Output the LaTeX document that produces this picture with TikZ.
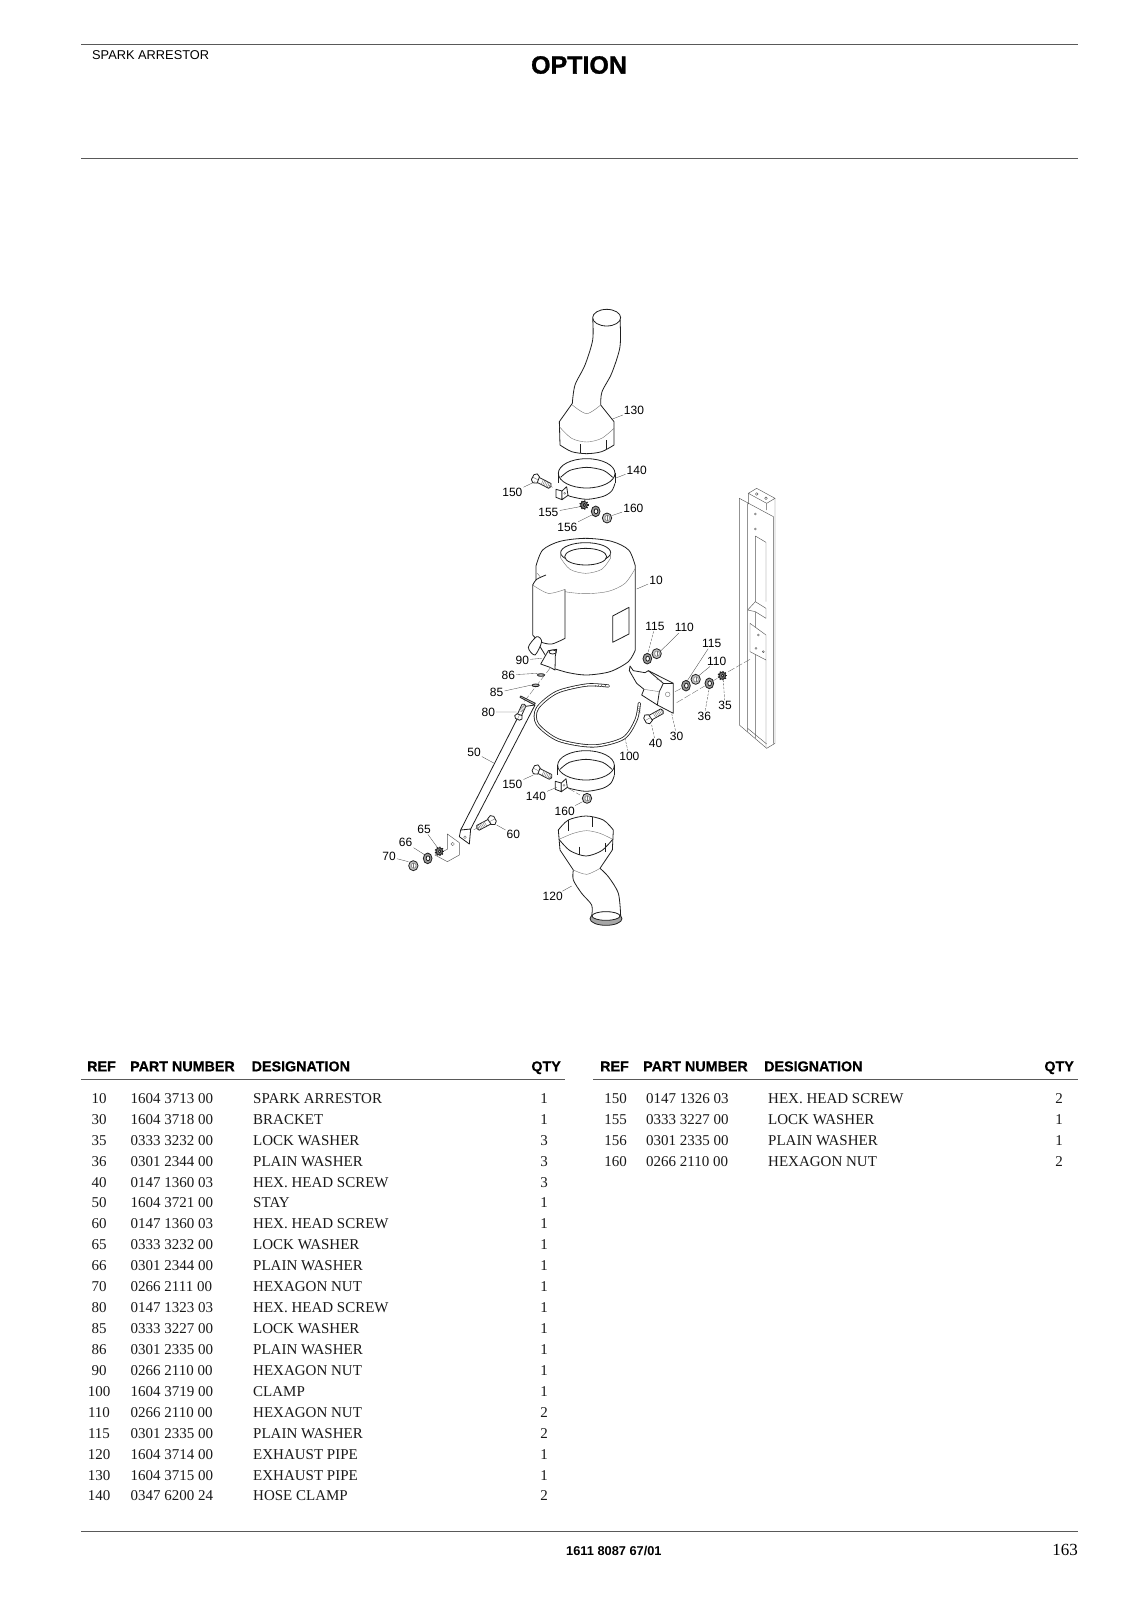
\documentclass[tikz,border=0pt]{standalone}
\usepackage{fontspec}
\setmainfont{Liberation Serif}
\newfontfamily\helv{Liberation Sans}
\newfontfamily\helvheavy{Liberation Sans Bold}[FakeBold=1.2]
\newfontfamily\helvhead{Liberation Sans Bold}[FakeBold=0.5]
\usepackage{xcolor}
\usepackage{tikz}
\usetikzlibrary{positioning,calc}
\definecolor{rulegrey}{gray}{0.35}
\definecolor{inkgrey}{gray}{0.12}
\tikzset{
  zoomA/.style={shift={(480,290)},scale=1/3},
  zoomB/.style={shift={(480,560)},scale=1/3},
  zoomC/.style={shift={(360,680)},scale=1/3},
  zoomD/.style={shift={(520,530)},scale=1/3},
  every pic/.style={scale=1/3},
  part/.style={line width=0.8pt,draw=inkgrey,line join=round},
  light/.style={line width=0.4pt,draw=black!55},
  rail/.style={line width=0.45pt,draw=black!65},
  leader/.style={line width=0.35pt,draw=black!70},
  leaderdash/.style={leader,dash pattern=on 2.5pt off 1.2pt},
  axisline/.style={line width=0.35pt,draw=black!60,dash pattern=on 7pt off 2pt},
  lbl/.style={font=\helv\fontsize{12}{12}\selectfont,inner sep=1pt},
  cell/.style={font=\fontsize{15}{15}\selectfont,inner sep=0pt,text=black!90},
  headcell/.style={font=\helvhead\fontsize{14.3}{14.3}\selectfont,inner sep=0pt},
  toprule/.style={line width=0.9pt,draw=rulegrey},
  screw/.pic={
    \draw[part,fill=white] (8,-8) -- (50,-8) -- (54,0) -- (50,8) -- (8,8) -- cycle;
    \foreach \k in {24,29,...,49} \draw[light] (\k,-8) -- (\k+1,8);
    \draw[part,fill=white] (0,-15) -- (10,-10) -- (12,10) -- (0,15) -- (-8,8) -- (-8,-8) -- cycle;
    \draw[light] (-8,0) -- (11,0);
  },
  lockwasher/.pic={
    \foreach \a in {0,40,...,320} \draw[part,line width=1.2pt] (0,0) -- (\a:14);
    \draw[part,fill=black!55] (0,0) ellipse [x radius=10,y radius=11];
    \draw[part,fill=white] (1,0) ellipse [x radius=3.5,y radius=5];
  },
  plainwasher/.pic={
    \draw[part,fill=black!40] (0,0) ellipse [x radius=13,y radius=16];
    \draw[part,fill=white] (1,0) ellipse [x radius=5.5,y radius=7.5];
  },
  hexnut/.pic={
    \draw[part,fill=black!25] (0,0) ellipse [x radius=14,y radius=15];
    \draw[light,fill=white] (1,0) ellipse [x radius=7,y radius=8];
    \draw[light] (1,-8) -- (1,8);
  },
  hoseclamp/.pic={
    \draw[part] (0,0) ellipse [x radius=85,y radius=44];
    \draw[part] plot[smooth] coordinates {(-78,12) (-50,-9) (0,-18) (50,-9) (78,12)};
    \draw[part] (-85,0) -- (-85,30);
    \draw[part] (85,0) -- (85,30);
    \draw[part] plot[smooth] coordinates {(85,30) (75,53) (50,69) (0,78) (-50,69) (-62,62)};
    \draw[part,fill=white] (-92,48) -- (-74,53) -- (-74,79) -- (-92,72) -- cycle;
    \draw[part,fill=white] (-74,53) -- (-60,40) -- (-56,66) -- (-74,79) -- cycle;
    \draw[light] (-66,60) circle [radius=3];
  }
}
\begin{document}
\begin{tikzpicture}[x=1pt,y=-1pt]
\useasboundingbox (0,0) rectangle (1130,1600);
% page head
\coordinate (headL) at (81,44);
\coordinate (headR) at (1078,44);
\coordinate (subL) at (81,158);
\coordinate (subR) at (1078,158);
\draw[toprule] (headL) -- (headR);
\draw[toprule] (subL) -- (subR);
\node[anchor=mid west,inner sep=0pt,font=\helv\fontsize{12.8}{13}\selectfont] (pagetitle) at (92,57) {SPARK ARRESTOR};
\node[inner sep=0pt,font=\helvheavy\fontsize{25}{25}\selectfont] (optiontitle) at (579,65) {OPTION};
%
% top pipe, clamp and column
\begin{scope}[zoomA]
  % exhaust pipe 130
  \draw[part,fill=white] plot[smooth] coordinates {(338,85) (338,150) (315,225) (285,285) (277,340)}
     -- (238,395) -- (240,465)
     -- plot[smooth] coordinates {(240,465) (275,485) (320,491) (365,485) (402,465)}
     -- (402,395) -- (362,345)
     -- plot[smooth] coordinates {(362,345) (366,305) (395,250) (420,170) (420,85)};
  \draw[part,fill=white] (380,83) ellipse [x radius=42,y radius=25];
  \draw[light] plot[smooth] coordinates {(277,345) (320,371) (362,345)};
  \draw[light] plot[smooth] coordinates {(238,410) (275,445) (320,456) (365,445) (402,415)};
  \draw[part] (300,463) -- (300,490) (378,450) -- (378,478);
  % hose clamp and fixings, top
  \pic at (320,550) {hoseclamp};
  \pic[rotate=-27] at (165,565) {screw};
  \draw[axisline] (205,585) -- (218,592);
  \pic at (312,645) {lockwasher};
  \pic at (347,664) {plainwasher};
  \pic at (381,684) {hexnut};
  % column
  \draw[rail,fill=white] (805,610) -- (830,595) -- (885,625) -- (860,640) -- cycle;
  \draw[rail] (830,612) circle [radius=4] (858,625) circle [radius=4];
  \draw[rail] (805,610) -- (805,642) (860,640) -- (860,660) (885,625) -- (885,1360) -- (860,1375) -- (778,1305) -- (778,625) -- (880,680) -- (880,1360);
  \draw[rail] (803,640) -- (803,1325) (826,738) -- (826,1345) (858,757) -- (858,935) (858,1110) -- (858,1372) (826,738) -- (858,757);
  \draw[rail] (803,1315) -- (860,1362);
  \draw[rail,fill=white] (803,960) -- (826,935) -- (858,955) -- (858,985) -- (826,965) -- cycle;
  \draw[rail,fill=white] (810,1000) -- (858,1035) -- (858,1110) -- (810,1085) -- cycle;
  \foreach \hx/\hy in {826/672,826/717,835/1035,828/1075,850/1085}
    \draw[rail] (\hx,\hy) circle [radius=3];
  \foreach \nm/\txt/\labx/\laby/\tgtx/\tgty in {a130/130/462/362/395/388,a140/140/470/540/405/565,a150/150/97/608/165/575,a155/155/205/668/300/650,a156/156/262/712/335/675,a160/160/460/655/395/677}{
    \node[lbl] (l\nm) at (\labx,\laby) {\txt};
    \coordinate (t\nm) at (\tgtx,\tgty);
    \draw[leader] (l\nm) -- (t\nm);
  }
\end{scope}
%
% arrestor can 10
\begin{scope}[zoomD]
  \draw[part,fill=white] plot[smooth] coordinates {(48,108) (68,60) (120,34) (197,25) (275,34) (326,60) (346,108)}
     -- (346,360)
     -- plot[smooth] coordinates {(346,360) (325,395) (270,425) (200,435) (145,428) (100,415)}
     -- (48,330) -- cycle;
  \draw[light] plot[smooth] coordinates {(52,130) (85,165) (130,184) (197,191) (265,184) (315,160) (346,115)};
  \draw[part,fill=white] (197,68) ellipse [x radius=75,y radius=30];
  \draw[light] (122,68) -- (122,84) -- plot[smooth] coordinates {(122,84) (150,118) (197,130) (245,118) (272,84)} -- (272,68);
  \draw[part,fill=white] (197,80) ellipse [x radius=63,y radius=25];
  \draw[part] (278,258) -- (327,232) -- (327,312) -- (278,337) -- cycle;
  % side cylinder
  \fill[white] (38,165) -- (50,148) -- (78,135) -- (135,178) -- (135,325) -- (95,342) -- (60,335) -- (38,315) -- cycle;
  \draw[part] plot[smooth] coordinates {(78,135) (50,148) (38,165)} -- (38,315)
     -- plot[smooth] coordinates {(38,315) (60,335) (95,342) (135,325)} -- (135,178);
  \draw[light] plot[smooth] coordinates {(38,165) (85,190) (135,178)};
  \draw[part,fill=white] plot[smooth cycle] coordinates {(25,352) (50,320) (65,335) (45,375)};
  % lug with bolt hole
  \draw[part,fill=white] (85,362) -- (110,358) -- (106,378) -- (105,420) -- (90,412) -- (62,402) -- cycle;
  \draw[part,fill=white] (98,366) ellipse [x radius=11,y radius=6];
\end{scope}
%
\begin{scope}[zoomB]
  \draw[axisline] (212,322) -- (130,428);
  \draw[part,fill=black!30] (183,345) ellipse [x radius=11,y radius=4];
  \draw[part,fill=black!30] (167,376) ellipse [x radius=11,y radius=4];
  % clamp 100
  \draw[part,double=white,double distance=1.5pt,line cap=round] plot[smooth] coordinates {(385,378) (320,375) (230,397) (172,445) (172,492) (235,540) (340,558) (430,535) (468,480) (478,430)};
  \foreach \k in {345,355,365,375} \draw[light] (\k,374) -- (\k,382);
  \foreach \k in {438,444,450,456} \draw[light] (472,\k) -- (482,\k+3);
  % bracket 30
  \draw[part,fill=white] (450,318) -- (448,332) -- (470,370) -- (492,388) -- (485,405) -- (532,435) -- (580,460) -- (580,370) -- (505,332) -- (495,338) -- (460,332) -- cycle;
  \draw[part] (505,332) -- (550,370) -- (538,395) -- (532,435);
  \draw[part] (550,370) -- (580,370);
  \draw[light] (530,358) -- (545,362) (492,388) -- (538,395);
  \draw[light] (563,403) circle [radius=7];
  % fixings
  \pic[rotate=29] at (502,478) {screw};
  \pic at (502,296) {plainwasher};
  \pic at (530,281) {hexnut};
  \pic at (618,377) {plainwasher};
  \pic at (647,358) {hexnut};
  \pic at (688,370) {plainwasher};
  \pic at (727,347) {lockwasher};
  \draw[axisline] (590,428) -- (674,378) (700,362) -- (712,355) (745,335) -- (810,298);
  \draw[axisline] (585,395) -- (604,385);
  \foreach \nm/\txt/\labx/\laby/\tgtx/\tgty in {b10/10/528/62/470/87,b110/110/613/203/540/275,c115/115/695/250/620/365,c110/110/710/303/655/348,b90/90/127/300/185/295,b86/86/85/345/172/340,b85/85/50/398/155/375,b80/80/25/456/110/456}{
    \node[lbl] (l\nm) at (\labx,\laby) {\txt};
    \coordinate (t\nm) at (\tgtx,\tgty);
    \draw[leader] (l\nm) -- (t\nm);
  }
  \foreach \nm/\txt/\labx/\laby/\tgtx/\tgty in {b115/115/525/198/503/283,b36/36/673/468/687/388,b35/35/735/437/730/362,b30/30/590/528/575/460,b40/40/527/550/515/495,b100/100/448/590/435/535}{
    \node[lbl] (l\nm) at (\labx,\laby) {\txt};
    \coordinate (t\nm) at (\tgtx,\tgty);
    \draw[leaderdash] (l\nm) -- (t\nm);
  }
\end{scope}
%
\begin{scope}[zoomC]
  % stay 50
  \draw[part,fill=white] (490,80) -- (302,450) -- (298,470) -- (328,492) -- (332,447) -- (525,75) -- cycle;
  \draw[part] (302,450) -- (332,447);
  \draw[part,fill=black!20] (482,48) -- (526,70) -- (522,74) -- (480,52) -- cycle;
  \draw[light] (315,472) circle [radius=4];
  \draw[rail,fill=white] (262,462) -- (298,488) -- (298,525) -- (262,545) -- (225,525) -- (262,508) -- cycle;
  \draw[light] (278,492) circle [radius=5];
  \pic[rotate=65,scale=0.8] at (475,112) {screw};
  \pic[rotate=208] at (398,420) {screw};
  \draw[axisline] (360,440) -- (340,450);
  \pic at (238,514) {lockwasher};
  \pic at (203,535) {plainwasher};
  \pic at (160,557) {hexnut};
  % lower clamp and fixings
  \pic at (678,256) {hoseclamp};
  \pic[rotate=-27] at (527,268) {screw};
  \draw[axisline] (565,290) -- (575,296);
  \pic at (681,355) {hexnut};
  \draw[axisline] (625,325) -- (660,345);
  % exhaust pipe 120
  \draw[part,fill=white] plot[smooth] coordinates {(595,450) (625,420) (678,408) (730,420) (760,450)}
     -- (757,510) -- (720,565)
     -- plot[smooth] coordinates {(720,565) (745,590) (775,640) (782,708)}
     -- (695,708)
     -- plot[smooth] coordinates {(695,708) (695,675) (665,640) (640,600) (640,570)}
     -- (600,510) -- cycle;
  \draw[part] plot[smooth] coordinates {(597,478) (630,512) (678,528) (725,512) (758,478)};
  \draw[light] plot[smooth] coordinates {(597,478) (640,460) (680,452) (720,460) (758,478)};
  \draw[part] (625,420) -- (625,452) (697,410) -- (697,440) (735,490) -- (735,515) (657,500) -- (657,525);
  \draw[light] plot[smooth] coordinates {(640,570) (680,583) (720,565)};
  \draw[part,fill=black!35] (738,716) ellipse [x radius=48,y radius=20];
  \draw[part,fill=white] (738,708) ellipse [x radius=42,y radius=13];
  \foreach \nm/\txt/\labx/\laby/\tgtx/\tgty in {c65/65/192/447/232/502,c66/66/137/488/195/525,c70/70/87/530/145/545,c60/60/460/463/410/435,c50/50/342/217/403/250,c120/120/578/650/635/618,c140/140/528/348/590/322,c160/160/614/393/668/365,c150/150/457/314/520/285}{
    \node[lbl] (l\nm) at (\labx,\laby) {\txt};
    \coordinate (t\nm) at (\tgtx,\tgty);
    \draw[leader] (l\nm) -- (t\nm);
  }
\end{scope}
%
% parts tables
\coordinate (tabAl) at (81,1079);
\coordinate (tabAr) at (565,1079);
\coordinate (tabBl) at (593,1079);
\coordinate (tabBr) at (1078,1079);
\draw[toprule] (tabAl) -- (tabAr);
\draw[toprule] (tabBl) -- (tabBr);
\node[headcell,anchor=mid west] (hrefA) at (87,1069) {REF};
\node[headcell,anchor=mid west] (hpartA) at (130,1069) {PART NUMBER};
\node[headcell,anchor=mid west] (hdesA) at (251.5,1069) {DESIGNATION};
\node[headcell,anchor=mid east] (hqtyA) at (561,1069) {QTY};
\node[headcell,anchor=mid west] (hrefB) at (600,1069) {REF};
\node[headcell,anchor=mid west] (hpartB) at (643,1069) {PART NUMBER};
\node[headcell,anchor=mid west] (hdesB) at (764,1069) {DESIGNATION};
\node[headcell,anchor=mid east] (hqtyB) at (1074,1069) {QTY};
\foreach \refno/\partno/\desg/\qty [count=\i from 0] in {
  10/1604 3713 00/SPARK ARRESTOR/1,
  30/1604 3718 00/BRACKET/1,
  35/0333 3232 00/LOCK WASHER/3,
  36/0301 2344 00/PLAIN WASHER/3,
  40/0147 1360 03/HEX. HEAD SCREW/3,
  50/1604 3721 00/STAY/1,
  60/0147 1360 03/HEX. HEAD SCREW/1,
  65/0333 3232 00/LOCK WASHER/1,
  66/0301 2344 00/PLAIN WASHER/1,
  70/0266 2111 00/HEXAGON NUT/1,
  80/0147 1323 03/HEX. HEAD SCREW/1,
  85/0333 3227 00/LOCK WASHER/1,
  86/0301 2335 00/PLAIN WASHER/1,
  90/0266 2110 00/HEXAGON NUT/1,
  100/1604 3719 00/CLAMP/1,
  110/0266 2110 00/HEXAGON NUT/2,
  115/0301 2335 00/PLAIN WASHER/2,
  120/1604 3714 00/EXHAUST PIPE/1,
  130/1604 3715 00/EXHAUST PIPE/1,
  140/0347 6200 24/HOSE CLAMP/2}{
  \node[cell,anchor=mid] (refA\i) at (99,1101+20.93*\i) {\refno};
  \node[cell,anchor=mid west] (partA\i) at (130.5,1101+20.93*\i) {\partno};
  \node[cell,anchor=mid west] (desA\i) at (253,1101+20.93*\i) {\desg};
  \node[cell,anchor=mid] (qtyA\i) at (544,1101+20.93*\i) {\qty};
}
\foreach \refno/\partno/\desg/\qty [count=\i from 0] in {
  150/0147 1326 03/HEX. HEAD SCREW/2,
  155/0333 3227 00/LOCK WASHER/1,
  156/0301 2335 00/PLAIN WASHER/1,
  160/0266 2110 00/HEXAGON NUT/2}{
  \node[cell,anchor=mid] (refB\i) at (615.5,1101+20.93*\i) {\refno};
  \node[cell,anchor=mid west] (partB\i) at (646,1101+20.93*\i) {\partno};
  \node[cell,anchor=mid west] (desB\i) at (768,1101+20.93*\i) {\desg};
  \node[cell,anchor=mid] (qtyB\i) at (1059,1101+20.93*\i) {\qty};
}
%
% page foot
\coordinate (footL) at (81,1531);
\coordinate (footR) at (1078,1531);
\draw[toprule] (footL) -- (footR);
\node[inner sep=0pt,font=\helv\bfseries\fontsize{12.8}{13}\selectfont,anchor=mid west] (docno) at (566,1553) {1611 8087 67/01};
\node[inner sep=0pt,font=\fontsize{17}{17}\selectfont,anchor=mid east] (pageno) at (1078,1553) {163};
\end{tikzpicture}
\end{document}
